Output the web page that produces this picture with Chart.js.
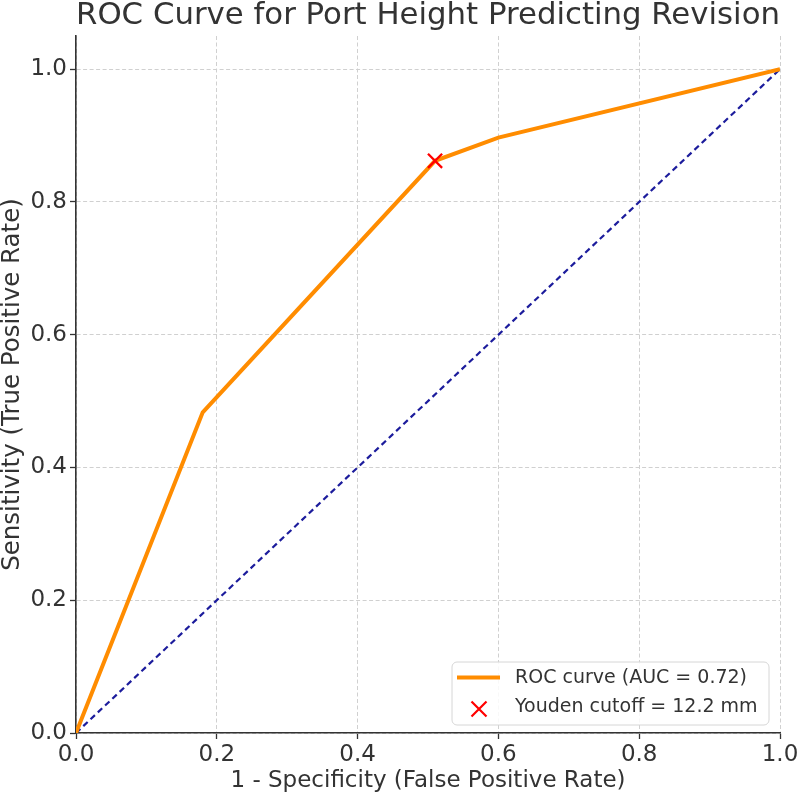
<!DOCTYPE html>
<html>
<head>
<meta charset="utf-8">
<script src="https://cdn.jsdelivr.net/npm/chart.js@4/dist/chart.umd.min.js"></script>
<style>
  html, body { margin: 0; padding: 0; background: #fff; }
  #wrap { width: 797px; height: 796px; }
</style>
</head>
<body>
<div id="wrap"><canvas id="c" width="797" height="796"></canvas></div>
<script>
// ---- data ----
const rocFpr = [0, 0.18, 0.51, 0.60, 1.0];
const rocTpr = [0, 0.483, 0.862, 0.897, 1.0];
const chanceFpr = [0, 1];
const chanceTpr = [0, 1];
const youdenFpr = [0.51];
const youdenTpr = [0.862];
const axisTicks = [0, 0.2, 0.4, 0.6, 0.8, 1.0];
const titleText = 'ROC Curve for Port Height Predicting Revision';
const xTitle = '1 - Specificity (False Positive Rate)';
const yTitle = 'Sensitivity (True Positive Rate)';
const legendLabels = ['ROC curve (AUC = 0.72)', 'Youden cutoff = 12.2 mm'];

const FONT = "'DejaVu Sans', sans-serif";
const TEXT = '#333333';

const toPts = (xs, ys) => xs.map((x, i) => ({x: x, y: ys[i]}));

const legendPlugin = {
  id: 'innerLegend',
  afterDraw(chart) {
    const ctx = chart.ctx;
    const x0 = 452, y0 = 662, w = 317, h = 63, r = 5;
    ctx.save();
    ctx.beginPath();
    ctx.moveTo(x0 + r, y0);
    ctx.arcTo(x0 + w, y0, x0 + w, y0 + h, r);
    ctx.arcTo(x0 + w, y0 + h, x0, y0 + h, r);
    ctx.arcTo(x0, y0 + h, x0, y0, r);
    ctx.arcTo(x0, y0, x0 + w, y0, r);
    ctx.closePath();
    ctx.fillStyle = 'rgba(255,255,255,0.85)';
    ctx.fill();
    ctx.strokeStyle = '#d6d6d6';
    ctx.lineWidth = 1;
    ctx.stroke();
    // orange sample line
    ctx.strokeStyle = '#ff8c00';
    ctx.lineWidth = 4;
    ctx.beginPath();
    ctx.moveTo(457, 677.5);
    ctx.lineTo(500, 677.5);
    ctx.stroke();
    // red x sample
    ctx.strokeStyle = 'red';
    ctx.lineWidth = 2.2;
    const cx = 479, cy = 709, s = 7.5;
    ctx.beginPath();
    ctx.moveTo(cx - s, cy - s); ctx.lineTo(cx + s, cy + s);
    ctx.moveTo(cx - s, cy + s); ctx.lineTo(cx + s, cy - s);
    ctx.stroke();
    ctx.fillStyle = TEXT;
    ctx.font = '19px ' + FONT;
    ctx.textBaseline = 'middle';
    ctx.textAlign = 'left';
    ctx.fillText(legendLabels[0], 515, 678);
    ctx.fillText(legendLabels[1], 515, 707);
    ctx.restore();
  }
};

new Chart(document.getElementById('c'), {
  type: 'scatter',
  data: {
    datasets: [
      {
        label: legendLabels[1],
        data: toPts(youdenFpr, youdenTpr),
        pointStyle: 'crossRot',
        pointRadius: 10,
        pointHoverRadius: 10,
        pointBorderWidth: 2.3,
        borderColor: 'red',
        backgroundColor: 'red',
        showLine: false,
        order: 0
      },
      {
        label: legendLabels[0],
        data: toPts(rocFpr, rocTpr),
        showLine: true,
        borderColor: '#ff8c00',
        borderWidth: 4,
        pointRadius: 0,
        pointHoverRadius: 0,
        tension: 0,
        order: 1
      },
      {
        label: 'chance',
        data: toPts(chanceFpr, chanceTpr),
        showLine: true,
        borderColor: '#1c1c9c',
        borderWidth: 2.2,
        borderDash: [6, 4],
        pointRadius: 0,
        pointHoverRadius: 0,
        order: 2
      }
    ]
  },
  options: {
    responsive: false,
    animation: false,
    events: [],
    layout: { padding: { left: 0, right: 17, top: 0, bottom: 0 } },
    plugins: {
      legend: { display: false },
      tooltip: { enabled: false },
      title: {
        display: true,
        text: titleText,
        fullSize: false,
        color: TEXT,
        font: { family: FONT, size: 31, weight: 'normal', lineHeight: 1.0 },
        padding: { top: 0, bottom: 5 }
      }
    },
    scales: {
      x: {
        type: 'linear',
        min: 0, max: 1,
        afterBuildTicks: (s) => { s.ticks = axisTicks.map(v => ({value: v})); },
        afterFit: (s) => { s.height = 63; s.paddingRight = 0; s.paddingLeft = 0; },
        ticks: {
          color: TEXT,
          font: { family: FONT, size: 23 },
          padding: 2,
          maxRotation: 0,
          callback: (v) => Number(v).toFixed(1)
        },
        grid: {
          color: '#d0d0d0',
          lineWidth: 1,
          tickLength: 6,
          tickColor: '#333',
          tickWidth: 1.3,
          tickBorderDash: []
        },
        border: { display: true, color: '#333', width: 1.6, dash: [4, 2.5] },
        title: {
          display: true,
          text: xTitle,
          color: TEXT,
          font: { family: FONT, size: 23, lineHeight: 1.0 },
          padding: { top: 0, bottom: 3 }
        }
      },
      y: {
        type: 'linear',
        min: 0, max: 1.05,
        afterBuildTicks: (s) => { s.ticks = axisTicks.map(v => ({value: v})); },
        afterFit: (s) => { s.width = 76; s.paddingTop = 0; s.paddingBottom = 0; },
        ticks: {
          color: TEXT,
          font: { family: FONT, size: 23 },
          padding: 3,
          callback: (v) => Number(v).toFixed(1)
        },
        grid: {
          color: '#d0d0d0',
          lineWidth: 1,
          tickLength: 6,
          tickColor: '#333',
          tickWidth: 1.3,
          tickBorderDash: []
        },
        border: { display: true, color: '#333', width: 1.6, dash: [4, 2.5] },
        title: {
          display: true,
          text: yTitle,
          color: TEXT,
          font: { family: FONT, size: 24.5, lineHeight: 1.0 },
          padding: { top: 0, bottom: 0 }
        }
      }
    }
  },
  plugins: [legendPlugin]
});
</script>
</body>
</html>
